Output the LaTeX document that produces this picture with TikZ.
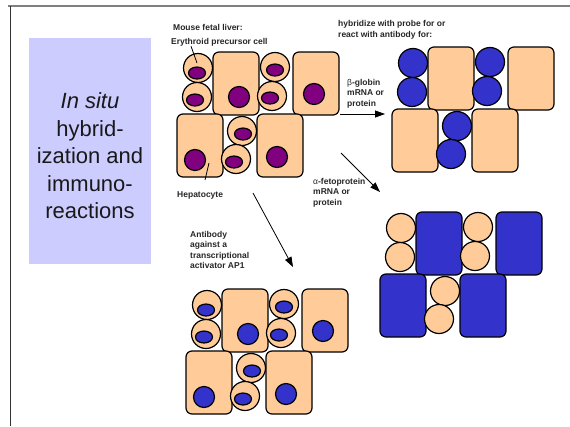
\documentclass[tikz,border=0pt]{standalone}
\usepackage{fontspec}
\setmainfont{Liberation Sans}
\usepackage{xcolor}
\usetikzlibrary{positioning, arrows.meta}

\definecolor{peach}{HTML}{FFCC99}
\definecolor{nucpurple}{HTML}{800080}
\definecolor{stainblue}{HTML}{3333CC}
\definecolor{lilac}{HTML}{CCCCFF}

\begin{document}
\begin{tikzpicture}[
    x=1pt, y=-1pt,
    lbl/.style={font=\fontsize{8.5}{10.5}\selectfont\bfseries, text=black!85,
                align=left, anchor=west, inner sep=0pt},
    titlebox/.style={fill=lilac, minimum width=122pt, minimum height=226pt,
                     inner sep=0pt, align=center, text=black!90,
                     font=\fontsize{22}{27.5}\selectfont},
    arr/.style={-{Triangle[length=10pt, width=7pt]}, line width=0.8pt},
    ptr/.style={line width=0.8pt},
    cell/.style={draw, line width=1.2pt},
    erycirc/.style={cell, fill=peach},
    hepbox/.style={cell, fill=peach, rounded corners=6pt},
    erynuc/.style={cell, fill=nucpurple},
    hepnuc/.style={cell, fill=nucpurple},
    cluster/.pic={
      % hepatocytes
      \foreach \a/\b in {0/0, 80/0, -36/62, 44/62}
        \path[hepbox] (\a,\b) rectangle ++(46,63);
      \foreach \a/\b in {26/45, 101/42, -18/108, 64/105}
        \path[hepnuc] (\a,\b) circle[radius=10.5];
      % erythroid precursors
      \foreach \a/\b/\u/\v in {-15/16/-1/5, -16/45/-2/3, 62/15/0/3,
                               59/44/-2/2, 29/79/1/3, 23/107/-2/3} {
        \path[erycirc] (\a,\b) circle[radius=14.5];
        \path[erynuc] (\a+\u,\b+\v) ellipse[x radius=8.5, y radius=6];
      }
    },
  ]
  \useasboundingbox (0,0) rectangle (570,426);
  % frame
  \draw[gray, line width=2.2pt] (8,6) -- (570,6);
  \draw[black!80, line width=0.8pt] (10,6) -- (10,426);

  \node[titlebox] (title) at (90,151)
    {\rule{0pt}{26pt}\textit{In situ}\\hybrid-\\ization and\\immuno-\\reactions};

  % liver section
  \pic (liver) at (213,52) {cluster};
  \node[lbl] (mfl) at (173,27) {Mouse fetal liver:};
  \node[lbl] (epc) at (171,42) {Erythroid precursor cell};
  \node[lbl] (hepato) at (177,195) {Hepatocyte};
  \coordinate (erydot) at (197,63);
  \coordinate (hepdot) at (209,163);
  \draw[ptr] ([xshift=20pt]epc.south west) -- (erydot);
  \draw[ptr] ([shift={(28,-11)}]hepato.north west) -- (hepdot);

  % beta-globin
  \pic[erycirc/.style={cell, fill=stainblue}, erynuc/.style={},
       hepnuc/.style={}] (globin) at (428,47) {cluster};
  % alpha-fetoprotein
  \pic[hepbox/.style={cell, fill=stainblue, rounded corners=6pt},
       erynuc/.style={}, hepnuc/.style={}] (fetopr) at (416,212) {cluster};
  % AP1 antibody
  \pic[erynuc/.style={cell, fill=stainblue},
       hepnuc/.style={cell, fill=stainblue}] (apone) at (222,289) {cluster};

  % probes
  \node[lbl] (hyb) at (338,30) {hybridize with probe for or\\react with antibody for:};
  \node[lbl] (bglo) at (347,93.5) {{\mdseries β}-globin\\mRNA or\\protein};
  \node[lbl] (afp) at (313,192.5) {{\mdseries α}-fetoprotein\\mRNA or\\protein};
  \node[lbl] (apab) at (190,250) {Antibody\\against a\\transcriptional\\activator AP1};

  % arrows
  \coordinate (bfrom) at (340,114);
  \coordinate (bto) at (385,114);
  \coordinate (afrom) at (341,153);
  \coordinate (ato) at (380,192);
  \coordinate (pfrom) at (253,193);
  \coordinate (pto) at (293,267);
  \draw[arr] (bfrom) -- (bto);
  \draw[arr] (afrom) -- (ato);
  \draw[arr] (pfrom) -- (pto);
\end{tikzpicture}
\end{document}
